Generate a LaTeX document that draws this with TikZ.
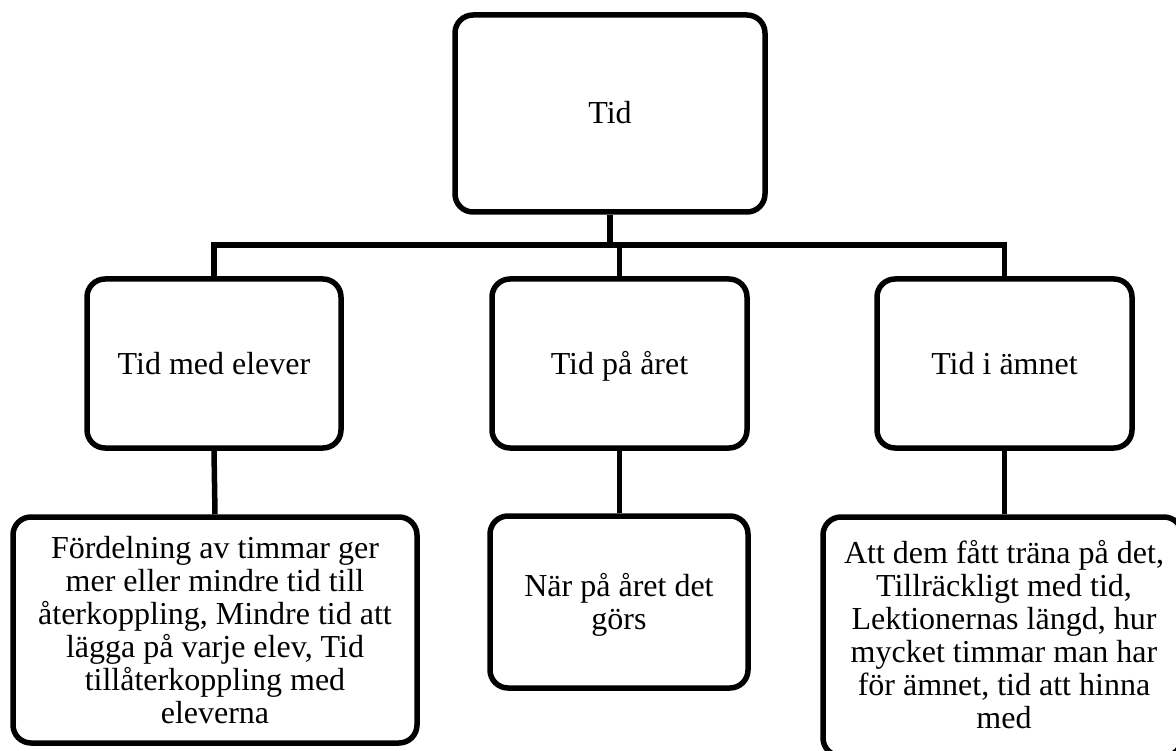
\documentclass[tikz,border=0pt]{standalone}
\usepackage{fontspec}
\setmainfont{Liberation Serif}
\begin{document}
\begin{tikzpicture}[x=1pt,y=-1pt,
  box/.style={draw=black, line width=5.5pt, rounded corners=18pt, fill=white,
    align=center, inner sep=0pt,
    font=\fontsize{32}{33}\selectfont},
  oneline/.style={text height=26pt, text depth=5pt},
  conn/.style={draw=black, line width=5.5pt}]
\useasboundingbox (0,0) rectangle (1176,751);
\fill[white] (0,0) rectangle (1176,751);

% root
\node[box, oneline, minimum width=310pt, minimum height=197pt] (top) at (610,113.5) {Tid};

% second level
\node[box, oneline, minimum width=254pt, minimum height=169pt] (lc) at (214,363.5) {Tid med elever};
\node[box, oneline, minimum width=255pt, minimum height=169pt] (mc) at (619.5,363.5) {Tid på året};
\node[box, oneline, minimum width=255pt, minimum height=169pt] (rc) at (1004.5,363.5) {Tid i ämnet};

% third level
\node[box, minimum width=404pt, minimum height=226pt] (lb) at (215,630)
  {Fördelning av timmar ger\\mer eller mindre tid till\\återkoppling, Mindre tid att\\lägga på varje elev, Tid\\tillåterkoppling med\\eleverna};
\node[box, minimum width=258pt, minimum height=172pt] (mb) at (619,602) {};
\node[font=\fontsize{32}{33}\selectfont, align=center, inner sep=0pt] (mbt) at (619,605)
  {När på året det\\görs};
\node[box, minimum width=359pt, minimum height=239pt] (rb) at (1002.5,636.5) {};
\node[font=\fontsize{32}{33}\selectfont, align=center, inner sep=0pt] (rbt) at (1004,635)
  {Att dem fått träna på det,\\Tillräckligt med tid,\\Lektionernas längd, hur\\mycket timmar man har\\för ämnet, tid att hinna\\med};

% connectors
\coordinate (bus) at (0,245);
\draw[conn] (top.south) -- (top.south |- bus);
\draw[conn] (lc.north) -- (lc.north |- bus) -- (rc.north |- bus) -- (rc.north);
\draw[conn] (mc.north) -- (mc.north |- bus);
\draw[conn] (lc.south) -- (lb.north);
\draw[conn] (mc.south) -- (mc.south |- mb.north);
\draw[conn] (rc.south) -- (rc.south |- rb.north);
\end{tikzpicture}
\end{document}
